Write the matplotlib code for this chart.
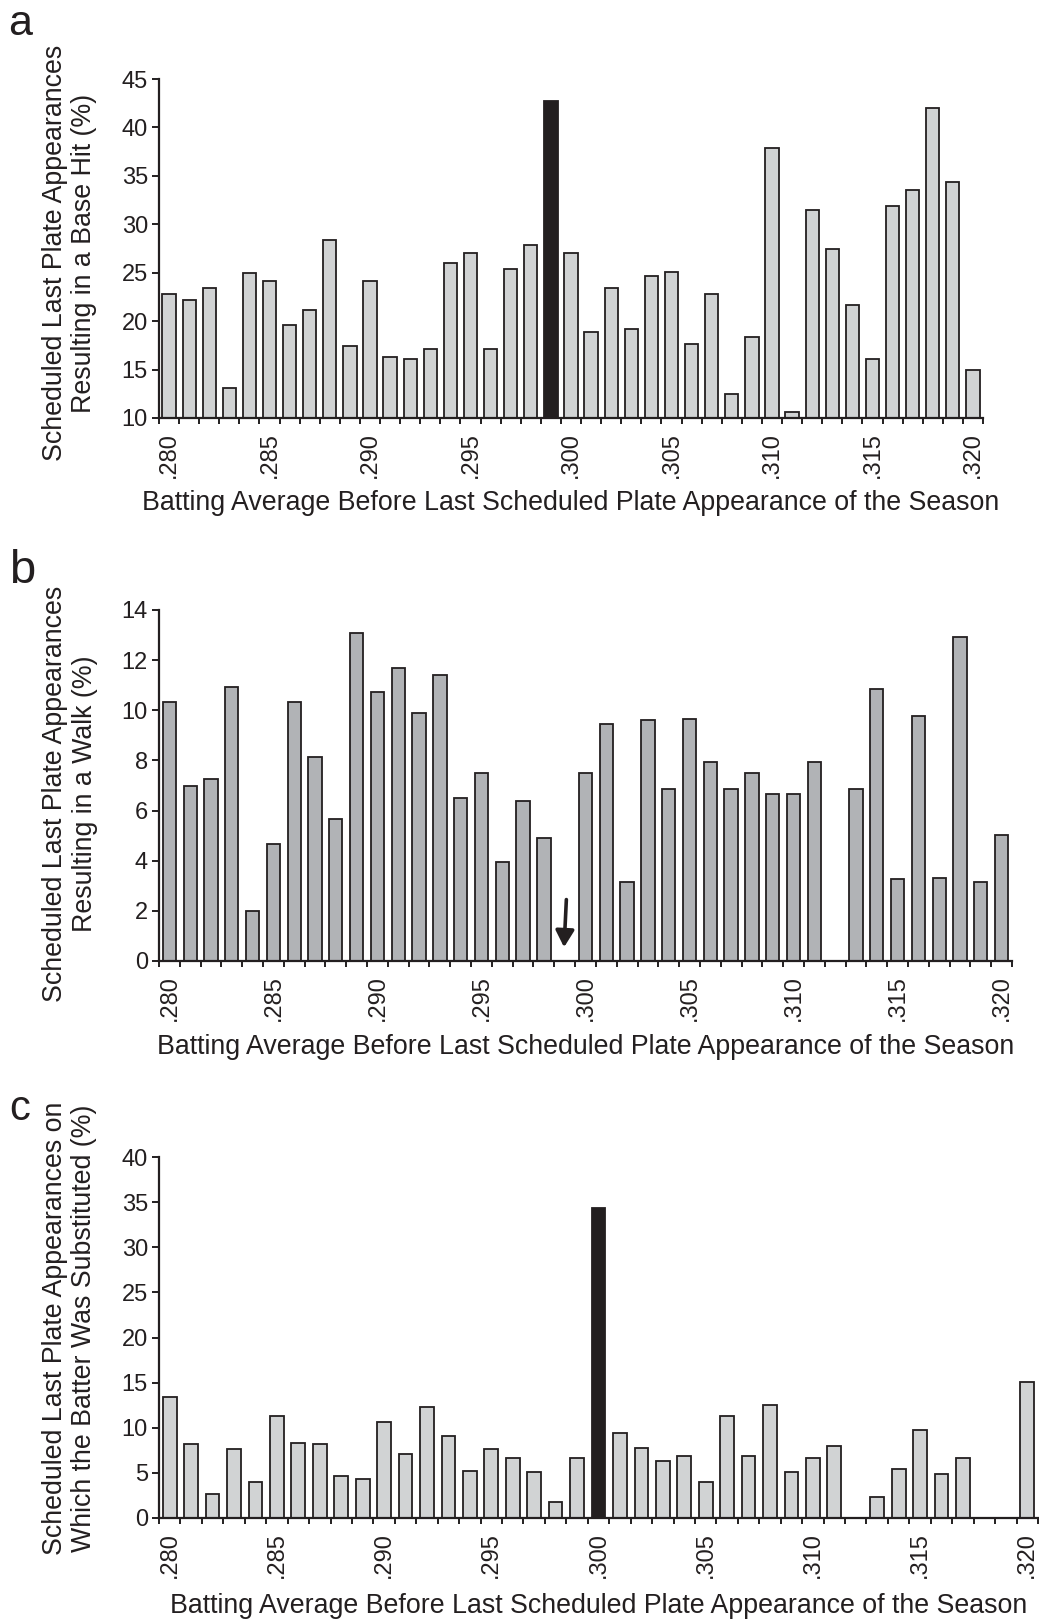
import matplotlib
matplotlib.use("Agg")
import matplotlib.pyplot as plt
import numpy as np

plt.rcParams['font.family'] = ['Liberation Sans', 'DejaVu Sans']

averages = [".%03d" % v for v in range(280, 321)]
tick_labels = [".280", ".285", ".290", ".295", ".300", ".305", ".310", ".315", ".320"]

hit_pct = [22.8, 22.2, 23.4, 13.1, 25.0, 24.1, 19.6, 21.2, 28.4, 17.4,
           24.1, 16.3, 16.1, 17.1, 26.0, 27.0, 17.1, 25.4, 27.9, 42.7,
           27.0, 18.9, 23.4, 19.2, 24.7, 25.1, 17.6, 22.8, 12.5, 18.4,
           37.9, 10.6, 31.5, 27.4, 21.7, 16.1, 31.9, 33.5, 42.0, 34.4, 15.0]

walk_pct = [10.35, 7.0, 7.27, 10.93, 2.0, 4.66, 10.35, 8.14, 5.67, 13.07,
            10.74, 11.68, 9.90, 11.42, 6.49, 7.51, 3.95, 6.37, 4.91, 0.0,
            7.51, 9.46, 3.14, 9.60, 6.87, 9.66, 7.95, 6.87, 7.51, 6.68,
            6.68, 7.95, 0.0, 6.87, 10.86, 3.26, 9.78, 3.33, 12.94, 3.14, 5.04]

subst_pct = [13.4, 8.16, 2.7, 7.6, 3.99, 11.26, 8.31, 8.16, 4.69, 4.32,
             10.67, 7.09, 12.33, 9.08, 5.24, 7.6, 6.68, 5.10, 1.81, 6.68,
             34.34, 9.42, 7.75, 6.31, 6.87, 3.99, 11.26, 6.87, 12.52, 5.06,
             6.68, 7.98, 0.0, 2.33, 5.43, 9.79, 4.87, 6.68, 0.0, 0.0, 15.07]

highlight_a = ".299"
arrow_b = ".299"
highlight_c = ".300"

TXT = "#231f20"
LIGHT = "#d1d3d4"
MID = "#b1b3b6"
DARK = "#231f20"

W, H = 1039, 1622
fig = plt.figure(figsize=(W / 100, H / 100), dpi=100)

TICK_FS = 17
LAB_FS = 19.3
XLABEL = "Batting Average Before Last Scheduled Plate Appearance of the Season"


def frac_axes(left, right, top, bottom):
    return fig.add_axes([left / W, 1 - bottom / H, (right - left) / W, (bottom - top) / H])


def style_axes(ax, ymin, ymax, ystep):
    n = len(averages)
    x = np.arange(n)
    ax.set_xlim(-0.5, n - 0.5)
    ax.set_ylim(ymin, ymax)
    for s in ['top', 'right']:
        ax.spines[s].set_visible(False)
    for s in ['left', 'bottom']:
        ax.spines[s].set_linewidth(1.6)
        ax.spines[s].set_color(TXT)
    ax.set_yticks(np.arange(ymin, ymax + 0.01, ystep))
    ax.tick_params(axis='y', length=5, width=1.4, color=TXT, labelsize=TICK_FS,
                   labelcolor=TXT, pad=3)
    lab_pos = [averages.index(t) for t in tick_labels]
    ax.set_xticks(lab_pos)
    ax.set_xticklabels(tick_labels, rotation=90)
    ax.set_xticks(np.arange(n + 1) - 0.5, minor=True)
    ax.tick_params(axis='x', which='major', length=0, labelsize=TICK_FS,
                   labelcolor=TXT, pad=10)
    ax.tick_params(axis='x', which='minor', length=4, width=1.4, color=TXT)
    return x


def xlab(ax, ycenter_px):
    pos = ax.get_position()
    fig.text(pos.x0 + pos.width / 2, 1 - ycenter_px / H, XLABEL, fontsize=LAB_FS,
             color=TXT, ha='center', va='center')


# Panel a
ax1 = frac_axes(159, 983, 79, 418)
x = style_axes(ax1, 10, 45, 5)
cols = [DARK if a == highlight_a else LIGHT for a in averages]
ax1.bar(x, hit_pct, width=0.66, color=cols, edgecolor=DARK, linewidth=1.3)
xlab(ax1, 503)

# Panel b
ax2 = frac_axes(159, 1012, 610, 961)
x = style_axes(ax2, 0, 14, 2)
ax2.bar(x, walk_pct, width=0.64, color=MID, edgecolor=DARK, linewidth=1.3)
xi = averages.index(arrow_b)
ax2.annotate('', xy=(xi - 0.03, 0.55), xytext=(xi + 0.08, 2.45),
             arrowprops=dict(arrowstyle='-|>,head_width=0.28,head_length=0.5',
                             lw=2.6, color=DARK, mutation_scale=20,
                             shrinkA=0, shrinkB=0))
xlab(ax2, 1047)

# Panel c
ax3 = frac_axes(159, 1038, 1157, 1518)
x = style_axes(ax3, 0, 40, 5)
cols = [DARK if a == highlight_c else LIGHT for a in averages]
ax3.bar(x, subst_pct, width=0.64, color=cols, edgecolor=DARK, linewidth=1.3)
xlab(ax3, 1606)

# y labels
ylab_kw = dict(rotation=90, ha='center', va='center', multialignment='center',
               fontsize=LAB_FS, color=TXT, linespacing=1.15)
fig.text(70 / W, 1 - 253 / H,
         "Scheduled Last Plate Appearances\nResulting in a Base Hit (%)", **ylab_kw)
fig.text(70 / W, 1 - 794 / H,
         "Scheduled Last Plate Appearances\nResulting in a Walk (%)", **ylab_kw)
fig.text(70 / W, 1 - 1328 / H,
         "Scheduled Last Plate Appearances on\nWhich the Batter Was Substituted (%)", **ylab_kw)

# panel letters
fig.text(8 / W, 1 - 35 / H, "a", fontsize=31, color=TXT, va='baseline', ha='left')
fig.text(9 / W, 1 - 583 / H, "b", fontsize=34, color=TXT, va='baseline', ha='left')
fig.text(9 / W, 1 - 1120 / H, "c", fontsize=30, color=TXT, va='baseline', ha='left')

fig.savefig("out.png", dpi=100)
